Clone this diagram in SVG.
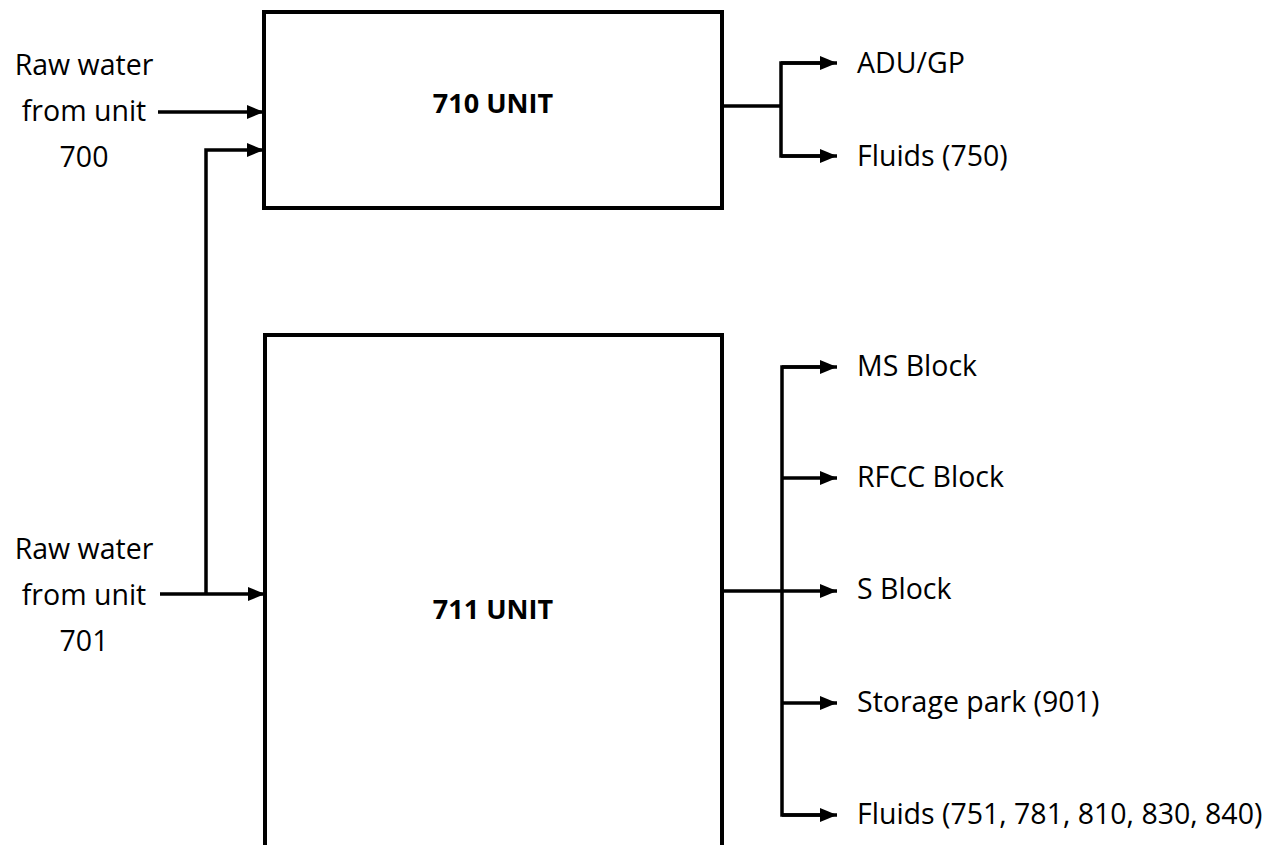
<svg xmlns="http://www.w3.org/2000/svg" width="1278" height="845" viewBox="0 0 1278 845">
<style>
.box{fill:#fff;stroke:#000;stroke-width:4}
.ln{fill:none;stroke:#000;stroke-width:3.5}
.t{font-family:"Open Sans","Noto Sans",sans-serif;font-size:28.5px;fill:#000}
.b{font-family:"Open Sans","Noto Sans",sans-serif;font-size:27px;font-weight:bold;fill:#000}
</style>
<defs>
<marker id="ar" viewBox="0 0 17 14" refX="17" refY="7" markerWidth="17" markerHeight="14" markerUnits="userSpaceOnUse" orient="auto">
<path d="M0,0 L17,7 L0,14 Z" fill="#000"/>
</marker>
</defs>
<g id="unit710">
<rect class="box" x="264" y="12" width="458" height="196"/>
<text class="b" x="493" y="113" text-anchor="middle">710 UNIT</text>
</g>
<g id="unit711">
<path class="box" d="M265,860 L265,335 L722,335 L722,860"/>
<text class="b" x="493" y="619" text-anchor="middle">711 UNIT</text>
</g>
<g id="src700">
<text class="t" text-anchor="middle"><tspan x="84" y="75">Raw water</tspan><tspan x="84" y="121">from unit</tspan><tspan x="84" y="167">700</tspan></text>
</g>
<g id="src701">
<text class="t" text-anchor="middle"><tspan x="84" y="559">Raw water</tspan><tspan x="84" y="605">from unit</tspan><tspan x="84" y="651">701</tspan></text>
</g>
<g id="out-adu"><text class="t" x="857" y="73">ADU/GP</text></g>
<g id="out-f750"><text class="t" x="857" y="166">Fluids (750)</text></g>
<g id="out-ms"><text class="t" x="857" y="376">MS Block</text></g>
<g id="out-rfcc"><text class="t" x="857" y="487">RFCC Block</text></g>
<g id="out-s"><text class="t" x="857" y="599">S Block</text></g>
<g id="out-storage"><text class="t" x="857" y="712">Storage park (901)</text></g>
<g id="out-fluids"><text class="t" x="857" y="824">Fluids (751, 781, 810, 830, 840)</text></g>
<g id="connectors">
<line class="ln" x1="158" y1="112" x2="264" y2="112" marker-end="url(#ar)"/>
<path class="ln" d="M206,594 L206,150 L264,150" marker-end="url(#ar)"/>
<line class="ln" x1="160" y1="594" x2="265" y2="594" marker-end="url(#ar)"/>
<line class="ln" x1="722" y1="106" x2="781" y2="106"/>
<path class="ln" d="M830,63 L781,63 L781,156 L830,156"/>
<line class="ln" x1="781" y1="63" x2="837" y2="63" marker-end="url(#ar)"/>
<line class="ln" x1="781" y1="156" x2="837" y2="156" marker-end="url(#ar)"/>
<line class="ln" x1="722" y1="591" x2="782" y2="591"/>
<path class="ln" d="M830,367 L782,367 L782,815 L830,815"/>
<line class="ln" x1="782" y1="367" x2="837" y2="367" marker-end="url(#ar)"/>
<line class="ln" x1="782" y1="478" x2="837" y2="478" marker-end="url(#ar)"/>
<line class="ln" x1="782" y1="591" x2="837" y2="591" marker-end="url(#ar)"/>
<line class="ln" x1="782" y1="703" x2="837" y2="703" marker-end="url(#ar)"/>
<line class="ln" x1="782" y1="815" x2="837" y2="815" marker-end="url(#ar)"/>
</g>
</svg>
